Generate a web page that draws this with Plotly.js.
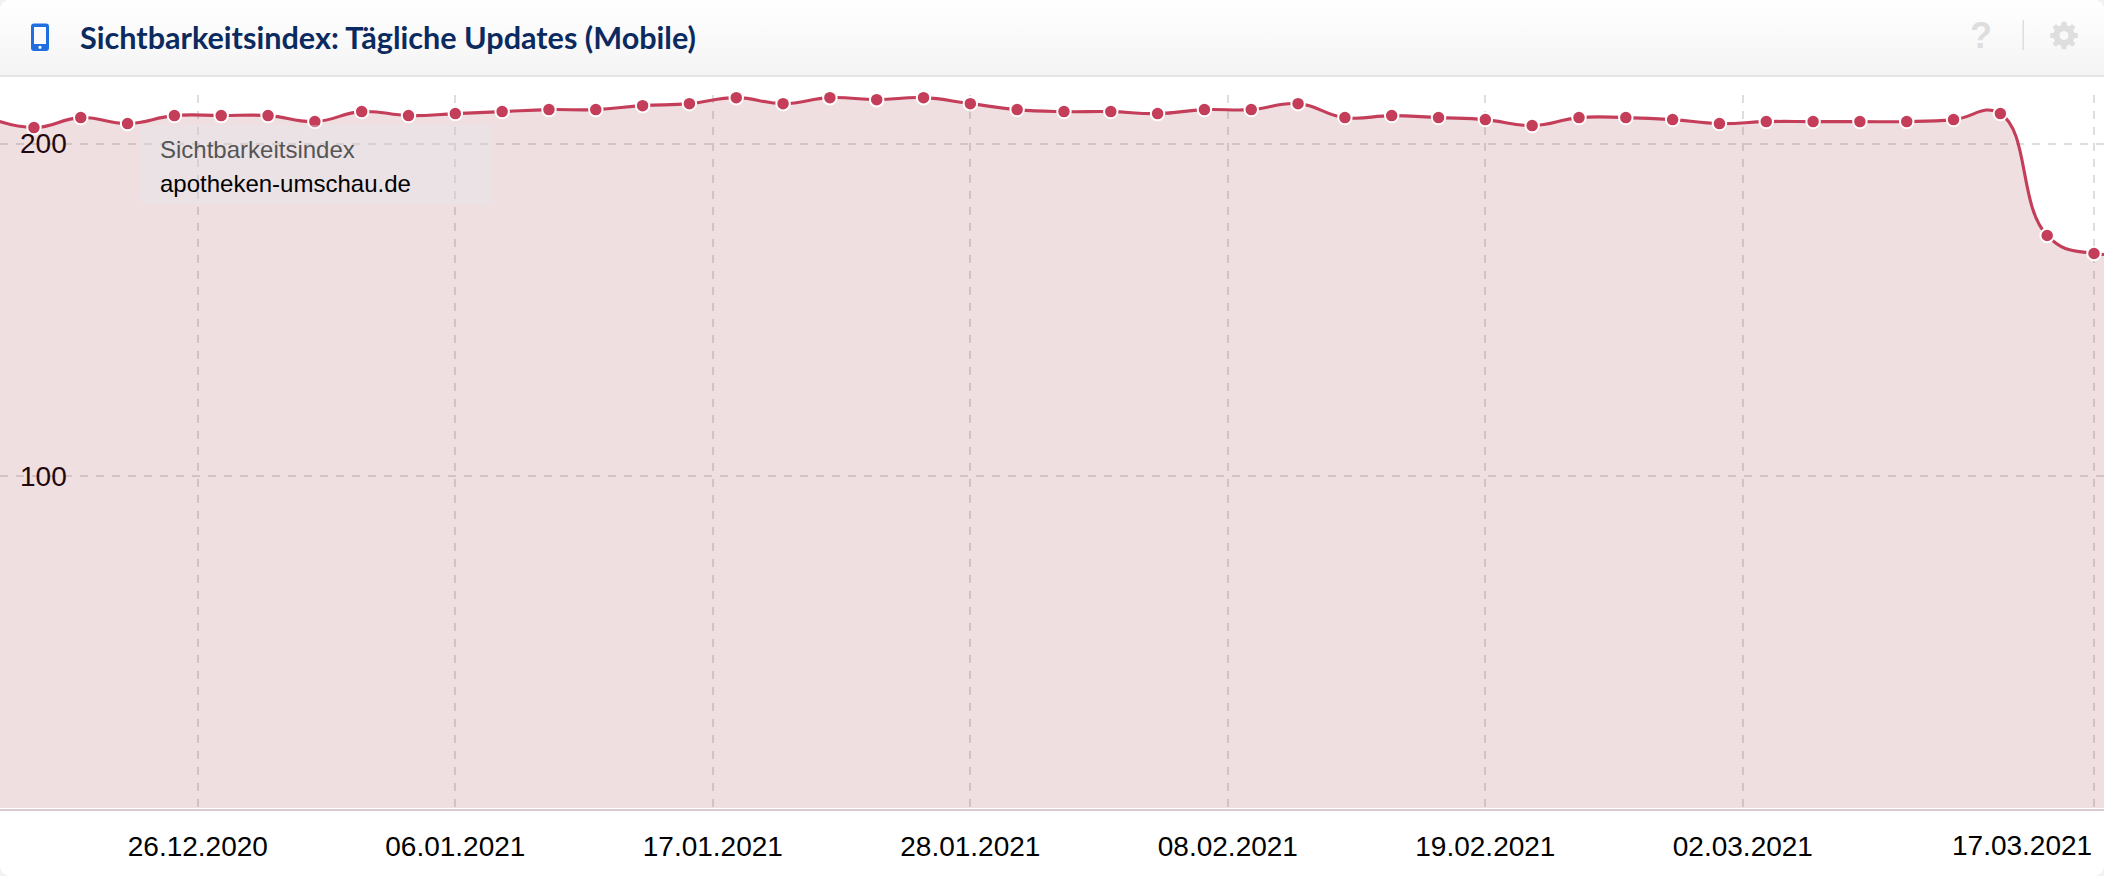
<!DOCTYPE html>
<html><head><meta charset="utf-8">
<script src="https://cdn.plot.ly/plotly-3.0.1.min.js"></script>
<style>
html,body{margin:0;padding:0;background:#f2f2f2;width:2104px;height:876px;overflow:hidden}
#card{position:absolute;left:0;top:0;width:2104px;height:876px;border-radius:10px;overflow:hidden;background:#fff}
#head{position:absolute;left:0;top:0;width:2104px;height:75px;background:linear-gradient(#ffffff,#f4f4f4);border-bottom:2px solid #e5e5e5;box-sizing:content-box}
#chart{position:absolute;left:0;top:0;width:2104px;height:876px}
</style></head><body>
<div id="card"><div id="head"></div><div id="chart"></div></div>
<script>
const titleText = "Sichtbarkeitsindex: Tägliche Updates (Mobile)";
const seriesName = "Sichtbarkeitsindex";
const domainName = "apotheken-umschau.de";
const dates = ["2020-12-17","2020-12-19","2020-12-21","2020-12-23","2020-12-25","2020-12-27","2020-12-29","2020-12-31",
"2021-01-02","2021-01-04","2021-01-06","2021-01-08","2021-01-10","2021-01-12","2021-01-14","2021-01-16","2021-01-18","2021-01-20","2021-01-22","2021-01-24","2021-01-26","2021-01-28","2021-01-30",
"2021-02-01","2021-02-03","2021-02-05","2021-02-07","2021-02-09","2021-02-11","2021-02-13","2021-02-15","2021-02-17","2021-02-19","2021-02-21","2021-02-23","2021-02-25","2021-02-27",
"2021-03-01","2021-03-03","2021-03-05","2021-03-07","2021-03-09","2021-03-11","2021-03-13","2021-03-15","2021-03-17","2021-03-19"];
const values = [207.9,204.8,207.8,206.0,208.4,208.4,208.4,206.6,
209.6,208.4,209.0,209.6,210.2,210.2,211.4,212.0,213.8,212.0,213.8,213.2,213.8,212.0,210.2,
209.6,209.6,209.0,210.2,210.2,212.0,207.8,208.4,207.8,207.2,205.4,207.8,207.8,207.2,
206.0,206.6,206.6,206.6,206.6,207.2,209.0,172.3,166.9,167.7];
const xTickVals = ["2020-12-26","2021-01-06","2021-01-17","2021-01-28","2021-02-08","2021-02-19","2021-03-02","2021-03-17"];
const xTickText = ["26.12.2020","06.01.2021","17.01.2021","28.01.2021","08.02.2021","19.02.2021","02.03.2021",""];
const lastTickLabel = "17.03.2021";
const yTickVals = [100,200];
const yTickText = ["100","200"];

const W = 2104, H = 876, TOP = 95, BOT = 809;
const yMin = -0.3, yMax = 214.6;
const PX = x => x / W;
const PY = y => (BOT - y) / (BOT - TOP);
const rr = (x0, y0, x1, y1, r) => {
  const X = v => PX(v), Y = v => PY(v);
  return `M${X(x0+r)},${Y(y0)} L${X(x1-r)},${Y(y0)} Q${X(x1)},${Y(y0)} ${X(x1)},${Y(y0+r)} L${X(x1)},${Y(y1-r)} Q${X(x1)},${Y(y1)} ${X(x1-r)},${Y(y1)} L${X(x0+r)},${Y(y1)} Q${X(x0)},${Y(y1)} ${X(x0)},${Y(y1-r)} L${X(x0)},${Y(y0+r)} Q${X(x0)},${Y(y0)} ${X(x0+r)},${Y(y0)} Z`;
};
const boxShape = (x0,y0,x1,y1,fill,layer) => ({type:'rect',xref:'paper',yref:'paper',x0:PX(x0),x1:PX(x1),y0:PY(y0),y1:PY(y1),fillcolor:fill,line:{width:0},layer:layer||'above'});
const pathShape = (path,fill) => ({type:'path',xref:'paper',yref:'paper',path,fillcolor:fill,line:{width:0},layer:'above'});
const circleShape = (cx,cy,r,fill) => ({type:'circle',xref:'paper',yref:'paper',x0:PX(cx-r),x1:PX(cx+r),y0:PY(cy+r),y1:PY(cy-r),fillcolor:fill,line:{width:0},layer:'above'});
const gearPath = (cx,cy,ro,ri,teeth) => {
  let p = '';
  for (let i = 0; i < teeth; i++) {
    const a = 2*Math.PI*i/teeth - Math.PI/2, s = 2*Math.PI/teeth;
    const pts = [[ri,a-s*0.34],[ro,a-s*0.2],[ro,a+s*0.2],[ri,a+s*0.34]];
    pts.forEach(([r,t],k) => { p += ((i===0&&k===0)?'M':'L') + PX(cx+r*Math.cos(t)) + ',' + PY(cy+r*Math.sin(t)) + ' '; });
  }
  return p + 'Z';
};
const BLUE = '#1f6fe0', ICON = '#dedede';
const shapes = [
  boxShape(18,140,74,147,'#ffffff','below'),
  boxShape(18,472,74,479,'#ffffff','below'),
  pathShape(rr(140,125,492,205,6),'rgba(228,232,240,0.35)'),
  pathShape(rr(31,23.5,49,51,3),BLUE),
  boxShape(34,27,46,44,'#fbfbfb'),
  circleShape(40,47.3,1.6,'#fbfbfb'),
  boxShape(2022.5,20,2024,50,ICON),
  pathShape(gearPath(2064,35.5,14,10.5,8),ICON),
  circleShape(2064,35.5,4.5,'#f9f9f9')
];
const trace = {
  type:'scatter', mode:'lines+markers', x:dates, y:values, cliponaxis:false,
  line:{color:'#c43e5a',width:3.1,shape:'spline',smoothing:1.3},
  marker:{color:'#c43e5a',size:13.5,line:{color:'#ffffff',width:2}},
  fill:'tozeroy', fillcolor:'rgba(160,60,75,0.165)', hoverinfo:'skip'
};
const layout = {
  width:W, height:H, showlegend:false,
  paper_bgcolor:'rgba(0,0,0,0)', plot_bgcolor:'rgba(0,0,0,0)',
  margin:{l:0,r:0,t:TOP,b:H-BOT,pad:0},
  font:{family:'"Liberation Sans",Arial,sans-serif',color:'#000'},
  title:{text:'<b>'+titleText+'</b>',x:80/W,xref:'container',xanchor:'left',y:1-38/H,yref:'container',yanchor:'middle',
    font:{family:'Lato, sans-serif',size:30.6,color:'#0b2a5f'}},
  xaxis:{type:'date',range:['2020-12-17 13:12','2021-03-17 10:15'],tickmode:'array',tickvals:xTickVals,ticktext:xTickText,
    tickangle:0,ticks:'',showgrid:true,gridcolor:'#dedede',gridwidth:2,griddash:'8px,8px',zeroline:false,
    showline:true,linecolor:'#dccbd0',linewidth:2,tickfont:{size:28,color:'#000'},ticklabelstandoff:11},
  yaxis:{range:[yMin,yMax],tickmode:'array',tickvals:yTickVals,ticktext:yTickText,ticks:'',
    ticklabelposition:'inside',ticklabelstandoff:17,showgrid:true,gridcolor:'#dedede',gridwidth:2,griddash:'8px,8px',
    zeroline:false,showline:false,tickfont:{size:28,color:'#22080e'}},
  shapes,
  annotations:[
    {xref:'x',x:'2021-03-17',yref:'paper',y:0,yanchor:'top',yshift:-19.5,xshift:-1,xanchor:'right',text:lastTickLabel,showarrow:false,font:{size:28,color:'#000'},borderpad:0},
    {xref:'paper',x:PX(159),yref:'paper',y:PY(150),xanchor:'left',yanchor:'middle',text:seriesName,showarrow:false,font:{size:24,color:'#555555'},borderpad:0},
    {xref:'paper',x:PX(159),yref:'paper',y:PY(183),xanchor:'left',yanchor:'middle',text:domainName,showarrow:false,font:{size:24,color:'#000000'},borderpad:0},
    {xref:'paper',x:PX(1981),yref:'paper',y:PY(35),xanchor:'center',yanchor:'middle',text:'<b>?</b>',showarrow:false,font:{family:'"Liberation Sans",sans-serif',size:36,color:ICON},borderpad:0}
  ]
};
Plotly.newPlot('chart',[trace],layout,{displayModeBar:false,staticPlot:true});
</script></body></html>
